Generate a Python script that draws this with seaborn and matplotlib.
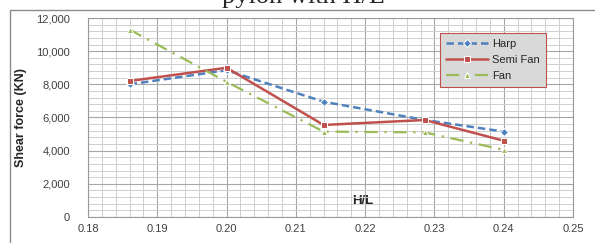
import numpy as np
import pandas as pd
import seaborn as sns
import matplotlib.pyplot as plt
from matplotlib.patches import Rectangle
from matplotlib.ticker import MultipleLocator, FuncFormatter

# H/L ratios and shear force values (KN)
h_l = [0.186, 0.200, 0.214, 0.2286, 0.240]
harp = [8000, 8850, 6950, 5850, 5150]
semi_fan = [8200, 9000, 5550, 5850, 4600]
fan = [11300, 8150, 5150, 5100, 4050]

sns.set_style("white")
plt.rcParams['font.family'] = ['Liberation Sans', 'DejaVu Sans']

fig = plt.figure(figsize=(5.95, 2.43), dpi=100)
ax = fig.add_axes([88 / 595, 1 - 217 / 243, 485 / 595, 199 / 243])

# outer chart border (cropped screenshot)
fig.patches.append(Rectangle((10 / 595, -0.1), 1.2, 1 - 10 / 243 + 0.1,
                             transform=fig.transFigure, fill=False,
                             edgecolor="#8c8c8c", linewidth=1.0))
fig.text(0.51, 1 - 3 / 243, "pylon with H/L", family="Liberation Serif",
         fontsize=19, ha="center", va="baseline")

sns.lineplot(x=h_l, y=harp, ax=ax, color="#4f81bd", linestyle=(0, (3, 1.6)),
             linewidth=1.8, marker="D", markersize=4, label="Harp")
sns.lineplot(x=h_l, y=semi_fan, ax=ax, color="#c0504d", linestyle="-",
             linewidth=1.8, marker="s", markersize=5, label="Semi Fan")
sns.lineplot(x=h_l, y=fan, ax=ax, color="#9bbb59", linestyle=(0, (6, 3, 1, 3)),
             linewidth=1.6, marker="^", markersize=5, label="Fan")

ax.set_xlim(0.18, 0.25)
ax.set_ylim(0, 12000)
ax.xaxis.set_major_locator(MultipleLocator(0.01))
ax.xaxis.set_minor_locator(MultipleLocator(0.002))
ax.yaxis.set_major_locator(MultipleLocator(2000))
ax.yaxis.set_minor_locator(MultipleLocator(400))
ax.xaxis.set_major_formatter(FuncFormatter(lambda v, p: f"{v:.2f}"))
ax.yaxis.set_major_formatter(FuncFormatter(lambda v, p: f"{int(v):,}"))
ax.grid(which="major", color="#a6a6a6", linewidth=0.8)
ax.grid(which="minor", color="#cfcfcf", linewidth=0.7)
ax.set_axisbelow(True)
ax.tick_params(which="both", length=0)
ax.tick_params(axis="y", pad=13, labelsize=8, labelcolor="#404040")
ax.tick_params(axis="x", pad=5, labelsize=8, labelcolor="#404040")
for s in ax.spines.values():
    s.set_color("#9a9a9a")
    s.set_linewidth(0.8)

ax.set_ylabel("Shear force (KN)", fontsize=9, fontweight="bold", color="#262626")
ax.yaxis.set_label_coords(-0.126, 0.5)
ax.set_xlabel("H/L", fontsize=9.5, fontweight="bold", color="#262626")
ax.xaxis.set_label_coords(0.567, 0.11)

leg = ax.legend(loc="upper right", bbox_to_anchor=(0.955, 0.955), fontsize=8,
                frameon=True, fancybox=False, handlelength=3.8, borderpad=0.55,
                labelspacing=0.55, handletextpad=0.3)
leg.get_frame().set_facecolor("#d9d9d9")
leg.get_frame().set_edgecolor("#c0504d")
leg.get_frame().set_alpha(1)
leg.get_frame().set_linewidth(0.8)

fig.savefig("out.png", dpi=100)
